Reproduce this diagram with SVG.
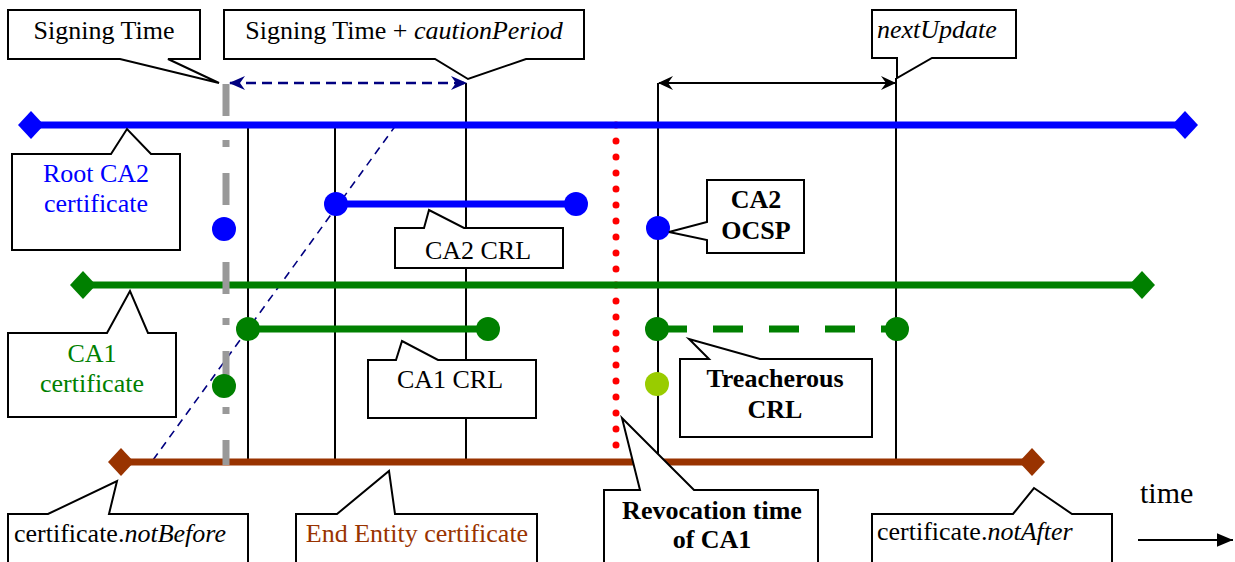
<svg xmlns="http://www.w3.org/2000/svg" width="1235" height="562" viewBox="0 0 1235 562">
<style>
text{font-family:"Liberation Serif","Times New Roman",serif;font-size:26px;fill:#000}
.b{font-weight:bold}
.i{font-style:italic}
.c{text-anchor:middle}
.callout{fill:#fff;stroke:#000;stroke-width:2;stroke-linejoin:miter}
.vl{stroke:#000;stroke-width:2;fill:none}
</style>
<defs>
<marker id="ahNavy" viewBox="0 0 16 14" refX="15" refY="7" markerWidth="16" markerHeight="14" markerUnits="userSpaceOnUse" orient="auto-start-reverse">
<path d="M0,0 L16,7 L0,14 L5,7 Z" fill="#000080"/>
</marker>
<marker id="ahBlack" viewBox="0 0 15 14" refX="14" refY="7" markerWidth="15" markerHeight="14" markerUnits="userSpaceOnUse" orient="auto-start-reverse">
<path d="M0,0 L15,7 L0,14 L5,7 Z" fill="#000"/>
</marker>
<marker id="ahTime" viewBox="0 0 14 12" refX="14" refY="6" markerWidth="16" markerHeight="14" markerUnits="userSpaceOnUse" orient="auto">
<path d="M0,0 L14,6 L0,12 Z" fill="#000"/>
</marker>
</defs>
<rect width="1235" height="562" fill="#fff"/>

<g id="connectors">
<line class="vl" x1="248" y1="125" x2="248" y2="462"/>
<line class="vl" x1="335" y1="125" x2="335" y2="462"/>
<line class="vl" x1="466" y1="83" x2="466" y2="462"/>
<line class="vl" x1="658" y1="83" x2="658" y2="462"/>
<line class="vl" x1="896" y1="78" x2="896" y2="462"/>
<line x1="230" y1="83" x2="466" y2="83" stroke="#000080" stroke-width="2.5" stroke-dasharray="10 6" marker-start="url(#ahNavy)" marker-end="url(#ahNavy)"/>
<line x1="659" y1="83" x2="895" y2="83" stroke="#000" stroke-width="2" marker-start="url(#ahBlack)" marker-end="url(#ahBlack)"/>
<line x1="153" y1="460" x2="396" y2="125" stroke="#000080" stroke-width="1.6" stroke-dasharray="8 6"/>
<line x1="616" y1="125" x2="616" y2="446" stroke="#ff0000" stroke-width="7" stroke-linecap="round" stroke-dasharray="0 16"/>
<line x1="1138" y1="540" x2="1233" y2="540" stroke="#000" stroke-width="2" marker-end="url(#ahTime)"/>
</g>

<g id="root-ca2-line">
<line x1="31" y1="125" x2="1185" y2="125" stroke="#0000ff" stroke-width="7"/>
<path d="M18,125 L31,111 L44,125 L31,139 Z" fill="#0000ff"/>
<path d="M1172,125 L1185,111 L1198,125 L1185,139 Z" fill="#0000ff"/>
</g>
<g id="ca1-line">
<line x1="83" y1="285" x2="1142" y2="285" stroke="#008000" stroke-width="7"/>
<path d="M70,285 L83,271 L96,285 L83,299 Z" fill="#008000"/>
<path d="M1129,285 L1142,271 L1155,285 L1142,299 Z" fill="#008000"/>
</g>
<g id="ee-line">
<line x1="121" y1="462" x2="1032" y2="462" stroke="#993300" stroke-width="7"/>
<path d="M108,462 L121,448 L134,462 L121,476 Z" fill="#993300"/>
<path d="M1019,462 L1032,448 L1045,462 L1032,476 Z" fill="#993300"/>
</g>

<g id="signing-time-line">
<line x1="226" y1="84" x2="226" y2="465" stroke="#999999" stroke-width="7" stroke-dasharray="32 24 7 26"/>
</g>

<g id="dots">
<circle cx="224" cy="229" r="12" fill="#0000ff"/>
<circle cx="224" cy="386" r="12" fill="#008000"/>
<circle cx="658" cy="228" r="12" fill="#0000ff"/>
<circle cx="657" cy="384" r="12" fill="#99cc00"/>
</g>

<g id="ca2-crl-bar">
<line x1="336" y1="204" x2="576" y2="204" stroke="#0000ff" stroke-width="7"/>
<circle cx="336" cy="204" r="12" fill="#0000ff"/>
<circle cx="576" cy="204" r="12" fill="#0000ff"/>
</g>
<g id="ca1-crl-bar">
<line x1="248" y1="329" x2="488" y2="329" stroke="#008000" stroke-width="7"/>
<circle cx="248" cy="329" r="12" fill="#008000"/>
<circle cx="488" cy="329" r="12" fill="#008000"/>
</g>
<g id="treacherous-crl-bar">
<line x1="657" y1="329" x2="897" y2="329" stroke="#008000" stroke-width="7" stroke-dasharray="30 26"/>
<circle cx="657" cy="329" r="12" fill="#008000"/>
<circle cx="897" cy="329" r="12" fill="#008000"/>
</g>

<g id="signing-time">
<path class="callout" d="M8,10 H200 V59 H168 L219,83 L120,59 H8 Z"/>
<text class="c" x="104" y="39">Signing Time</text>
</g>
<g id="caution-period">
<path class="callout" d="M224,10 H584 V59 H526 L468,79 L435,59 H224 Z"/>
<text class="c" x="404" y="39">Signing Time + <tspan class="i">cautionPeriod</tspan></text>
</g>
<g id="next-update">
<path class="callout" d="M872,10 H1016 V58 H932 L897,78 L897,58 H872 Z"/>
<text class="i" x="877" y="38">nextUpdate</text>
</g>
<g id="root-ca2">
<path class="callout" d="M12,154 H111 L127,129 L151,154 H180 V250 H12 Z"/>
<text class="c" x="96" y="182" style="fill:#0000ff">Root CA2</text>
<text class="c" x="96" y="212" style="fill:#0000ff">certificate</text>
</g>
<g id="ca2-crl">
<path class="callout" d="M395,228 H424 L429,210 L464,228 H563 V268 H395 Z"/>
<text class="c" x="478" y="259">CA2 CRL</text>
</g>
<g id="ca2-ocsp">
<path class="callout" d="M707,180 H804 V253 H707 V240 L669,232 L707,222 Z"/>
<text class="c b" x="756" y="208">CA2</text>
<text class="c b" x="756" y="239">OCSP</text>
</g>
<g id="ca1-cert">
<path class="callout" d="M8,333 H107 L130,291 L148,333 H176 V417 H8 Z"/>
<text class="c" x="92" y="362" style="fill:#008000">CA1</text>
<text class="c" x="92" y="392" style="fill:#008000">certificate</text>
</g>
<g id="ca1-crl">
<path class="callout" d="M368,360 H396 L402,341 L438,360 H536 V418 H368 Z"/>
<text class="c" x="450" y="388">CA1 CRL</text>
</g>
<g id="treacherous-crl">
<path class="callout" d="M680,359 H709 L689,339 L760,359 H872 V437 H680 Z"/>
<text class="c b" x="775" y="387">Treacherous</text>
<text class="c b" x="775" y="418">CRL</text>
</g>
<g id="not-before">
<path class="callout" d="M8,514 H48 L117,481 L109,514 H248 V566 H8 Z"/>
<text x="14" y="542">certificate.<tspan class="i">notBefore</tspan></text>
</g>
<g id="end-entity">
<path class="callout" d="M296,514 H337 L389,471 L395,514 H537 V566 H296 Z"/>
<text class="c" x="417" y="542" style="fill:#993300">End Entity certificate</text>
</g>
<g id="revocation-time">
<path class="callout" d="M604,490 H640 L622,418 L694,490 H818 V566 H604 Z"/>
<text class="c b" x="712" y="519">Revocation time</text>
<text class="c b" x="712" y="548">of CA1</text>
</g>
<g id="not-after">
<path class="callout" d="M872,514 H1013 L1034,488 L1072,514 H1112 V566 H872 Z"/>
<text x="877" y="540">certificate.<tspan class="i">notAfter</tspan></text>
</g>
<g id="time-label">
<text x="1140" y="503" style="font-size:30px">time</text>
</g>
</svg>
